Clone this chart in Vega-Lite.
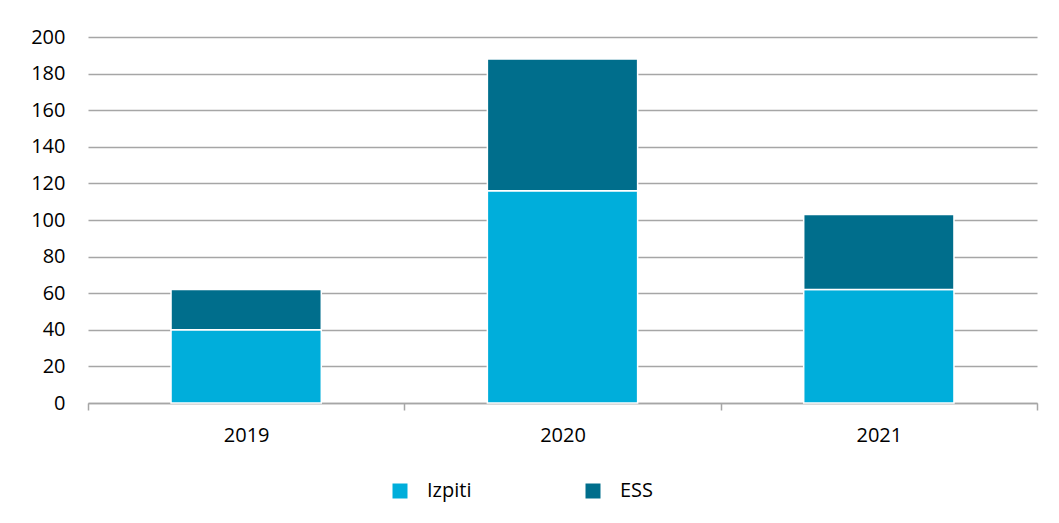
{
  "$schema": "https://vega.github.io/schema/vega-lite/v6.json",
  "autosize": {"type": "none"},
  "width": 949,
  "height": 366,
  "padding": {"left": 88, "top": 37, "right": 22, "bottom": 120},
  "background": "white",
  "config": {
    "font": "Open Sans",
    "view": {"stroke": null},
    "axis": {"labelFont": "Open Sans", "labelColor": "#000000", "labelFontSize": 20, "title": null}
  },
  "data": {
    "values": [
      {"year": "2019", "series": "Izpiti", "ord": 1, "value": 40},
      {"year": "2019", "series": "ESS", "ord": 2, "value": 22},
      {"year": "2020", "series": "Izpiti", "ord": 1, "value": 116},
      {"year": "2020", "series": "ESS", "ord": 2, "value": 72},
      {"year": "2021", "series": "Izpiti", "ord": 1, "value": 62},
      {"year": "2021", "series": "ESS", "ord": 2, "value": 41}
    ]
  },
  "mark": {"type": "bar", "stroke": "white", "strokeWidth": 1.5, "width": {"band": 0.475}},
  "encoding": {
    "x": {
      "field": "year", "type": "nominal",
      "scale": {"paddingInner": 0, "paddingOuter": 0},
      "axis": {
        "labelAngle": 0, "domainColor": "#a6a6a6", "domainWidth": 1.5,
        "tickColor": "#a6a6a6", "tickWidth": 1.5, "tickSize": 7,
        "tickBand": "extent", "labelPadding": 15, "grid": false
      }
    },
    "y": {
      "field": "value", "type": "quantitative", "stack": "zero",
      "scale": {"domain": [0, 200], "nice": false},
      "axis": {
        "values": [0, 20, 40, 60, 80, 100, 120, 140, 160, 180, 200],
        "domain": false, "ticks": false, "labelPadding": 23,
        "gridColor": "#a6a6a6", "gridWidth": 1.5
      }
    },
    "color": {
      "field": "series", "type": "nominal",
      "scale": {"domain": ["Izpiti", "ESS"], "range": ["#00aedb", "#006e8c"]},
      "legend": {
        "title": null, "orient": "none", "direction": "horizontal",
        "legendX": 302, "legendY": 444,
        "symbolType": "square", "symbolSize": 225, "symbolStrokeWidth": 0,
        "labelFontSize": 20, "labelFont": "Open Sans", "labelColor": "#000000",
        "columnPadding": 111, "labelOffset": 17
      }
    },
    "order": {"field": "ord", "type": "quantitative"}
  }
}
